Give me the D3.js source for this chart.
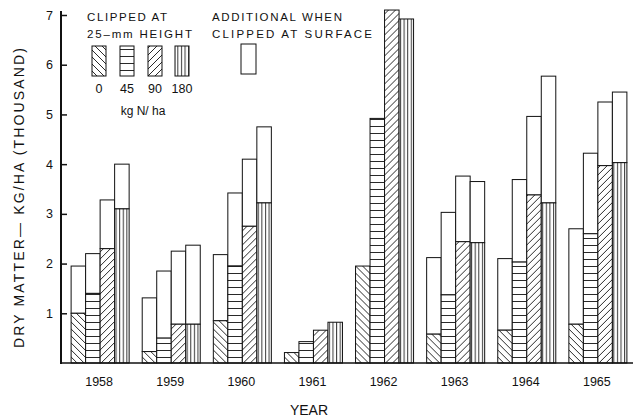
<!DOCTYPE html>
<html>
<head>
<meta charset="utf-8">
<script src="https://cdn.jsdelivr.net/npm/d3@7"></script>
<style>
  html, body { margin: 0; padding: 0; background: #fff; }
  svg { display: block; }
  text { font-family: "Liberation Sans", Arial, sans-serif; fill: #111; }
</style>
</head>
<body>
<svg id="chart" width="634" height="419"></svg>
<script>
// ---- data (thousand kg/ha dry matter) ----
const years = ["1958", "1959", "1960", "1961", "1962", "1963", "1964", "1965"];
const nitrogenRates = ["0", "45", "90", "180"];
// yield when clipped at 25-mm height
const clippedN0   = [1.00, 0.23, 0.85, 0.21, 1.95, 0.58, 0.66, 0.78];
const clippedN45  = [1.40, 0.50, 1.95, 0.43, 4.92, 1.37, 2.03, 2.60];
const clippedN90  = [2.30, 0.78, 2.75, 0.66, 7.10, 2.44, 3.38, 3.97];
const clippedN180 = [3.10, 0.78, 3.22, 0.82, 6.92, 2.42, 3.22, 4.03];
// total yield when clipped at surface (clipped + additional)
const surfaceN0   = [1.95, 1.31, 2.18, 0.21, 1.95, 2.12, 2.10, 2.70];
const surfaceN45  = [2.20, 1.85, 3.42, 0.43, 4.92, 3.03, 3.69, 4.22];
const surfaceN90  = [3.28, 2.25, 4.10, 0.66, 7.10, 3.76, 4.96, 5.25];
const surfaceN180 = [4.00, 2.37, 4.75, 0.82, 6.92, 3.65, 5.77, 5.45];
const yTicks = [1, 2, 3, 4, 5, 6, 7];

const clipped = [clippedN0, clippedN45, clippedN90, clippedN180];
const surface = [surfaceN0, surfaceN45, surfaceN90, surfaceN180];

const rows = [];
years.forEach((yr, i) => {
  nitrogenRates.forEach((n, j) => {
    rows.push({ year: yr, n: n, idx: j, clipped: clipped[j][i], total: surface[j][i] });
  });
});

// ---- layout ----
const svg = d3.select("#chart");
const axisX = 61, baseY = 363;

const x = d3.scaleBand().domain(years).range([64, 634]).paddingInner(0.184).paddingOuter(0.1);
const xi = d3.scaleBand().domain(nitrogenRates).range([0, x.bandwidth()]).padding(0);
const y = d3.scaleLinear().domain([0, 7]).range([baseY, 15]);

// ---- patterns ----
const defs = svg.append("defs");
function pat(id, w, h, d, sw) {
  const p = defs.append("pattern").attr("id", id).attr("patternUnits", "userSpaceOnUse")
    .attr("width", w).attr("height", h);
  p.append("rect").attr("width", w).attr("height", h).attr("fill", "#fff");
  p.append("path").attr("d", d).attr("stroke", "#111").attr("stroke-width", sw).attr("fill", "none");
}
pat("p0", 7, 7, "M0,0 L7,7 M-1,6 L1,8 M6,-1 L8,1", 0.9);
pat("p45", 10, 7, "M0,0.5 L10,0.5", 0.9);
pat("p90", 7, 7, "M0,7 L7,0 M-1,1 L1,-1 M6,8 L8,6", 0.9);
pat("p180", 3.6, 10, "M1.5,0 L1.5,10", 0.9);
const fills = ["url(#p0)", "url(#p45)", "url(#p90)", "url(#p180)"];

// ---- bars ----
const g = svg.append("g");
const bar = g.selectAll("g.bar").data(rows).join("g").attr("class", "bar")
  .attr("transform", d => `translate(${x(d.year) + xi(d.n)},0)`);

// additional (white) part
bar.filter(d => d.total > d.clipped).append("rect")
  .attr("x", 0).attr("width", xi.bandwidth())
  .attr("y", d => y(d.total)).attr("height", d => y(d.clipped) - y(d.total))
  .attr("fill", "#fff").attr("stroke", "#111").attr("stroke-width", 1);

// clipped (patterned) part
bar.append("rect")
  .attr("x", 0).attr("width", xi.bandwidth())
  .attr("y", d => y(d.clipped)).attr("height", d => baseY - y(d.clipped))
  .attr("fill", d => fills[d.idx]).attr("stroke", "#111").attr("stroke-width", 1);

// ---- axes ----
const yAxis = d3.axisLeft(y).tickValues(yTicks).tickFormat(d3.format("d"))
  .tickSize(-6).tickPadding(8).tickSizeOuter(0);
const ya = svg.append("g").attr("transform", `translate(${axisX},0)`).call(yAxis);
ya.select(".domain").remove();
ya.selectAll(".tick line").attr("stroke", "#111").attr("stroke-width", 1.5);
ya.selectAll(".tick text").attr("font-size", 12.5).attr("fill", "#111");
svg.append("line").attr("x1", axisX).attr("x2", axisX).attr("y1", 11).attr("y2", baseY + 1)
  .attr("stroke", "#111").attr("stroke-width", 2);

const xAxis = d3.axisBottom(x).tickSize(0).tickPadding(14);
const xa = svg.append("g").attr("transform", `translate(0,${baseY})`).call(xAxis);
xa.select(".domain").remove();
xa.selectAll(".tick text").attr("font-size", 12.5).attr("fill", "#111")
  .attr("dx", -1);
svg.append("line").attr("x1", axisX).attr("x2", 633).attr("y1", baseY).attr("y2", baseY)
  .attr("stroke", "#111").attr("stroke-width", 1.5);

// axis titles
svg.append("text").attr("x", 309).attr("y", 415).attr("text-anchor", "middle")
  .attr("font-size", 14).text("YEAR");
svg.append("text").attr("transform", "translate(24,198) rotate(-90)")
  .attr("text-anchor", "middle").attr("font-size", 14)
  .attr("textLength", 300).attr("lengthAdjust", "spacing")
  .text("DRY MATTER— KG/HA (THOUSAND)");

// ---- legend ----
const lg = svg.append("g");
function ltext(t, xx, yy, len) {
  lg.append("text").attr("x", xx).attr("y", yy).attr("font-size", 11.5)
    .attr("textLength", len).attr("lengthAdjust", "spacing").text(t);
}
ltext("CLIPPED  AT", 87, 21, 80);
ltext("25–mm HEIGHT", 87, 38, 105);
ltext("ADDITIONAL  WHEN", 212, 21, 130);
ltext("CLIPPED  AT  SURFACE", 212, 38, 160);

const legendX = [92, 120, 148, 175];
nitrogenRates.forEach((n, j) => {
  lg.append("rect").attr("x", legendX[j]).attr("y", 46).attr("width", 14).attr("height", 30)
    .attr("fill", fills[j]).attr("stroke", "#111").attr("stroke-width", 1);
  lg.append("text").attr("x", legendX[j] + 7).attr("y", 93).attr("text-anchor", "middle")
    .attr("font-size", 12.5).text(n);
});
lg.append("rect").attr("x", 241).attr("y", 44).attr("width", 15).attr("height", 30)
  .attr("fill", "#fff").attr("stroke", "#111").attr("stroke-width", 1);
lg.append("text").attr("x", 143).attr("y", 115).attr("text-anchor", "middle")
  .attr("font-size", 12).text("kg  N/ ha");
</script>
</body>
</html>
